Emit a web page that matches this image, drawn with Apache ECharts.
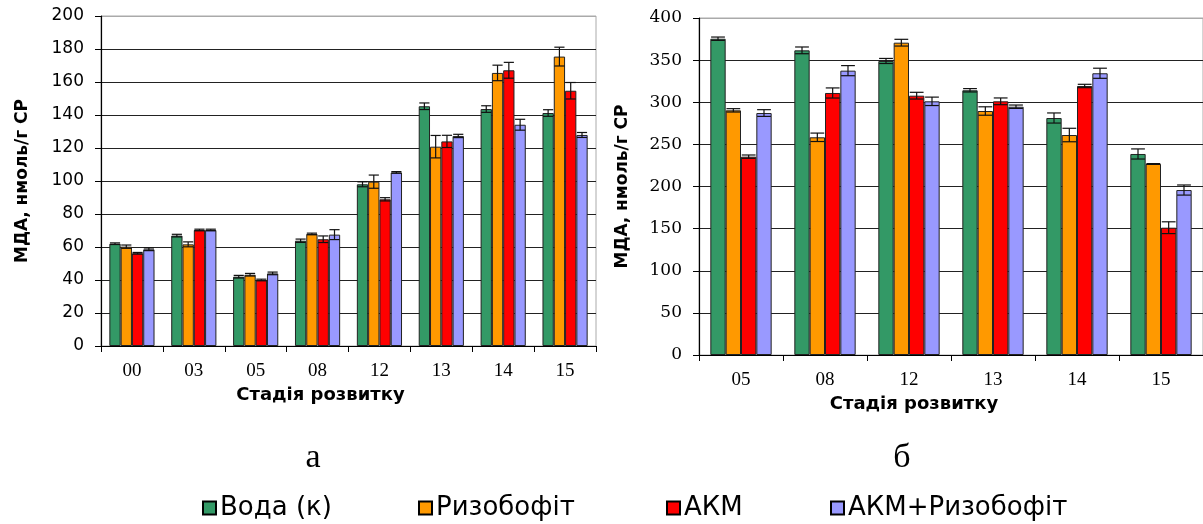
<!DOCTYPE html>
<html>
<head>
<meta charset="utf-8">
<script src="https://cdn.jsdelivr.net/npm/echarts@6/dist/echarts.min.js"></script>
<style>
html,body{margin:0;padding:0;background:#fff;}
#c{width:1203px;height:524px;}
</style>
</head>
<body>
<div id="c"></div>
<script>
// ---------- DATA ----------
const seriesNames = ['Вода (к)', 'Ризобофіт', 'АКМ', 'АКМ+Ризобофіт'];
const colors = ['#339966', '#FF9900', '#FF0000', '#9999FF'];

// Chart а
const catsA = ['00', '03', '05', '08', '12', '13', '14', '15'];
const waterA      = [62.0, 66.9, 42.0, 63.8, 98.0, 145.3, 143.6, 141.2];
const rizoA       = [60.2, 61.6, 43.2, 67.9, 99.6, 120.8, 165.5, 175.4];
const akmA        = [56.2, 70.3, 40.0, 64.7, 88.9, 124.0, 167.1, 154.7];
const akmRizoA    = [58.6, 70.3, 44.0, 67.5, 105.2, 127.3, 134.1, 127.9];
const waterAErr   = [0.5, 0.8, 0.8, 1.0, 1.5, 2.0, 2.0, 2.0];
const rizoAErr    = [1.0, 1.5, 0.8, 0.5, 4.0, 6.8, 4.7, 5.7];
const akmAErr     = [0.5, 0.5, 0.5, 2.0, 1.0, 3.7, 4.8, 5.0];
const akmRizoAErr = [0.8, 0.5, 0.8, 3.0, 0.5, 1.0, 3.3, 1.5];

// Chart б
const catsB = ['05', '08', '12', '13', '14', '15'];
const waterB      = [375.4, 361.6, 349.0, 314.2, 281.3, 238.6];
const rizoB       = [290.4, 258.4, 370.7, 289.6, 261.1, 226.7];
const akmB        = [235.4, 311.0, 307.8, 301.1, 319.3, 151.1];
const akmRizoB    = [287.2, 337.5, 301.1, 294.7, 334.4, 195.8];
const waterBErr   = [2, 4, 3, 2, 6, 6];
const rizoBErr    = [2, 5, 4, 5, 8, 0.5];
const akmBErr     = [2, 6, 4, 4, 2, 7];
const akmRizoBErr = [4, 6, 5, 2, 6, 6];

const yTicksA = [0, 20, 40, 60, 80, 100, 120, 140, 160, 180, 200];
const yTicksB = [0, 50, 100, 150, 200, 250, 300, 350, 400];

// ---------- BUILD ----------
const valsA = [waterA, rizoA, akmA, akmRizoA];
const errsA = [waterAErr, rizoAErr, akmAErr, akmRizoAErr];
const valsB = [waterB, rizoB, akmB, akmRizoB];
const errsB = [waterBErr, rizoBErr, akmBErr, akmRizoBErr];
const GAP = 0.27;

function errRenderer(si) {
  return function (params, api) {
    const cat = api.value(0), v = api.value(1), e = api.value(2);
    const band = api.size([1, 0])[0];
    const groupW = band * (1 - GAP);
    const bw = groupW / 4;
    const xOff = -groupW / 2 + bw * (si + 0.5);
    const top = api.coord([cat, v + e]);
    const bot = api.coord([cat, v - e]);
    const x = top[0] + xOff;
    const half = bw * 0.45;
    const st = { stroke: '#111', lineWidth: 1.2 };
    return {
      type: 'group',
      children: [
        { type: 'line', shape: { x1: x, y1: top[1], x2: x, y2: bot[1] }, style: st },
        { type: 'line', shape: { x1: x - half, y1: top[1], x2: x + half, y2: top[1] }, style: st },
        { type: 'line', shape: { x1: x - half, y1: bot[1], x2: x + half, y2: bot[1] }, style: st }
      ]
    };
  };
}

const series = [];
function addChart(vals, errs, axisIdx) {
  for (let i = 0; i < 4; i++) {
    series.push({
      name: seriesNames[i], type: 'bar', xAxisIndex: axisIdx, yAxisIndex: axisIdx,
      data: vals[i], barGap: '0%', barCategoryGap: (GAP * 100) + '%',
      itemStyle: { color: colors[i], borderColor: '#222', borderWidth: 1 },
      animation: false, z: 2
    });
  }
  for (let i = 0; i < 4; i++) {
    series.push({
      name: 'err' + axisIdx + '_' + i, type: 'custom', xAxisIndex: axisIdx, yAxisIndex: axisIdx,
      renderItem: errRenderer(i),
      data: vals[i].map((v, k) => [k, v, errs[i][k]]),
      encode: { x: 0, y: 1 }, animation: false, z: 5, silent: true
    });
  }
}
addChart(valsA, errsA, 0);
addChart(valsB, errsB, 1);

function splitColors(n) {
  const arr = [];
  for (let i = 0; i < n - 1; i++) arr.push('#222');
  arr.push('#aaaaaa');
  return arr;
}

const xLabel = { fontFamily: 'Liberation Serif', fontSize: 19, color: '#000', margin: 16 };
const axisTitle = { fontFamily: 'DejaVu Sans', fontWeight: 'bold', fontSize: 18, color: '#000' };

const legendPos = [197, 413, 661, 825];

const option = {
  backgroundColor: '#fff',
  animation: false,
  grid: [
    { left: 101, top: 16, width: 495, height: 330, show: true, borderColor: '#aaaaaa', borderWidth: 1, backgroundColor: 'transparent' },
    { left: 699, top: 18, width: 505, height: 337, show: true, borderColor: '#aaaaaa', borderWidth: 1, backgroundColor: 'transparent' }
  ],
  legend: legendPos.map((l, i) => ({
    data: [seriesNames[i]], left: l, top: 490, itemWidth: 13, itemHeight: 13, itemGap: 0,
    icon: 'rect', selectedMode: false,
    itemStyle: { borderColor: '#000', borderWidth: 2 },
    textStyle: { fontFamily: 'DejaVu Sans', fontSize: 26, color: '#000', padding: [0, 0, 0, -1] }
  })),
  title: [
    { text: 'а', left: 308, top: 436, textAlign: 'center', textStyle: { fontFamily: 'Liberation Serif', fontSize: 34, fontWeight: 'normal', color: '#000' } },
    { text: 'б', left: 897, top: 436, textAlign: 'center', textStyle: { fontFamily: 'Liberation Serif', fontSize: 34, fontWeight: 'normal', color: '#000' } }
  ],
  xAxis: [
    { type: 'category', gridIndex: 0, data: catsA,
      axisLine: { lineStyle: { color: '#000', width: 1.2 } },
      axisTick: { show: true, length: 6, lineStyle: { color: '#000' } },
      axisLabel: xLabel,
      name: 'Стадія розвитку', nameLocation: 'middle', nameGap: 40,
      nameTextStyle: Object.assign({ padding: [0, 56, 0, 0] }, axisTitle) },
    { type: 'category', gridIndex: 1, data: catsB,
      axisLine: { lineStyle: { color: '#000', width: 1.2 } },
      axisTick: { show: true, length: 6, lineStyle: { color: '#000' } },
      axisLabel: xLabel,
      name: 'Стадія розвитку', nameLocation: 'middle', nameGap: 38,
      nameTextStyle: Object.assign({ padding: [0, 74, 0, 0] }, axisTitle) }
  ],
  yAxis: [
    { type: 'value', gridIndex: 0, min: yTicksA[0], max: yTicksA[yTicksA.length - 1], interval: yTicksA[1] - yTicksA[0],
      axisLine: { show: true, lineStyle: { color: '#000', width: 1.2 } },
      axisTick: { show: true, length: 6, lineStyle: { color: '#000' } },
      axisLabel: { fontFamily: 'DejaVu Sans', fontSize: 17, color: '#000', margin: 17 },
      splitLine: { show: true, lineStyle: { color: splitColors(yTicksA.length), width: 1.2 } },
      name: 'МДА, нмоль/г СР', nameLocation: 'middle', nameGap: 70, nameRotate: 90,
      nameTextStyle: Object.assign({ padding: [0, 0, 0, 0] }, axisTitle, { fontSize: 17 }) },
    { type: 'value', gridIndex: 1, min: yTicksB[0], max: yTicksB[yTicksB.length - 1], interval: yTicksB[1] - yTicksB[0],
      axisLine: { show: true, lineStyle: { color: '#000', width: 1.2 } },
      axisTick: { show: true, length: 6, lineStyle: { color: '#000' } },
      axisLabel: { fontFamily: 'DejaVu Serif', fontSize: 17, color: '#000', margin: 17 },
      splitLine: { show: true, lineStyle: { color: splitColors(yTicksB.length), width: 1.2 } },
      name: 'МДА, нмоль/г СР', nameLocation: 'middle', nameGap: 68, nameRotate: 90,
      nameTextStyle: Object.assign({ padding: [0, 0, 0, 0] }, axisTitle, { fontSize: 17 }) }
  ],
  series: series
};

const chart = echarts.init(document.getElementById('c'), null, { renderer: 'canvas' });
chart.setOption(option);
</script>
</body>
</html>
